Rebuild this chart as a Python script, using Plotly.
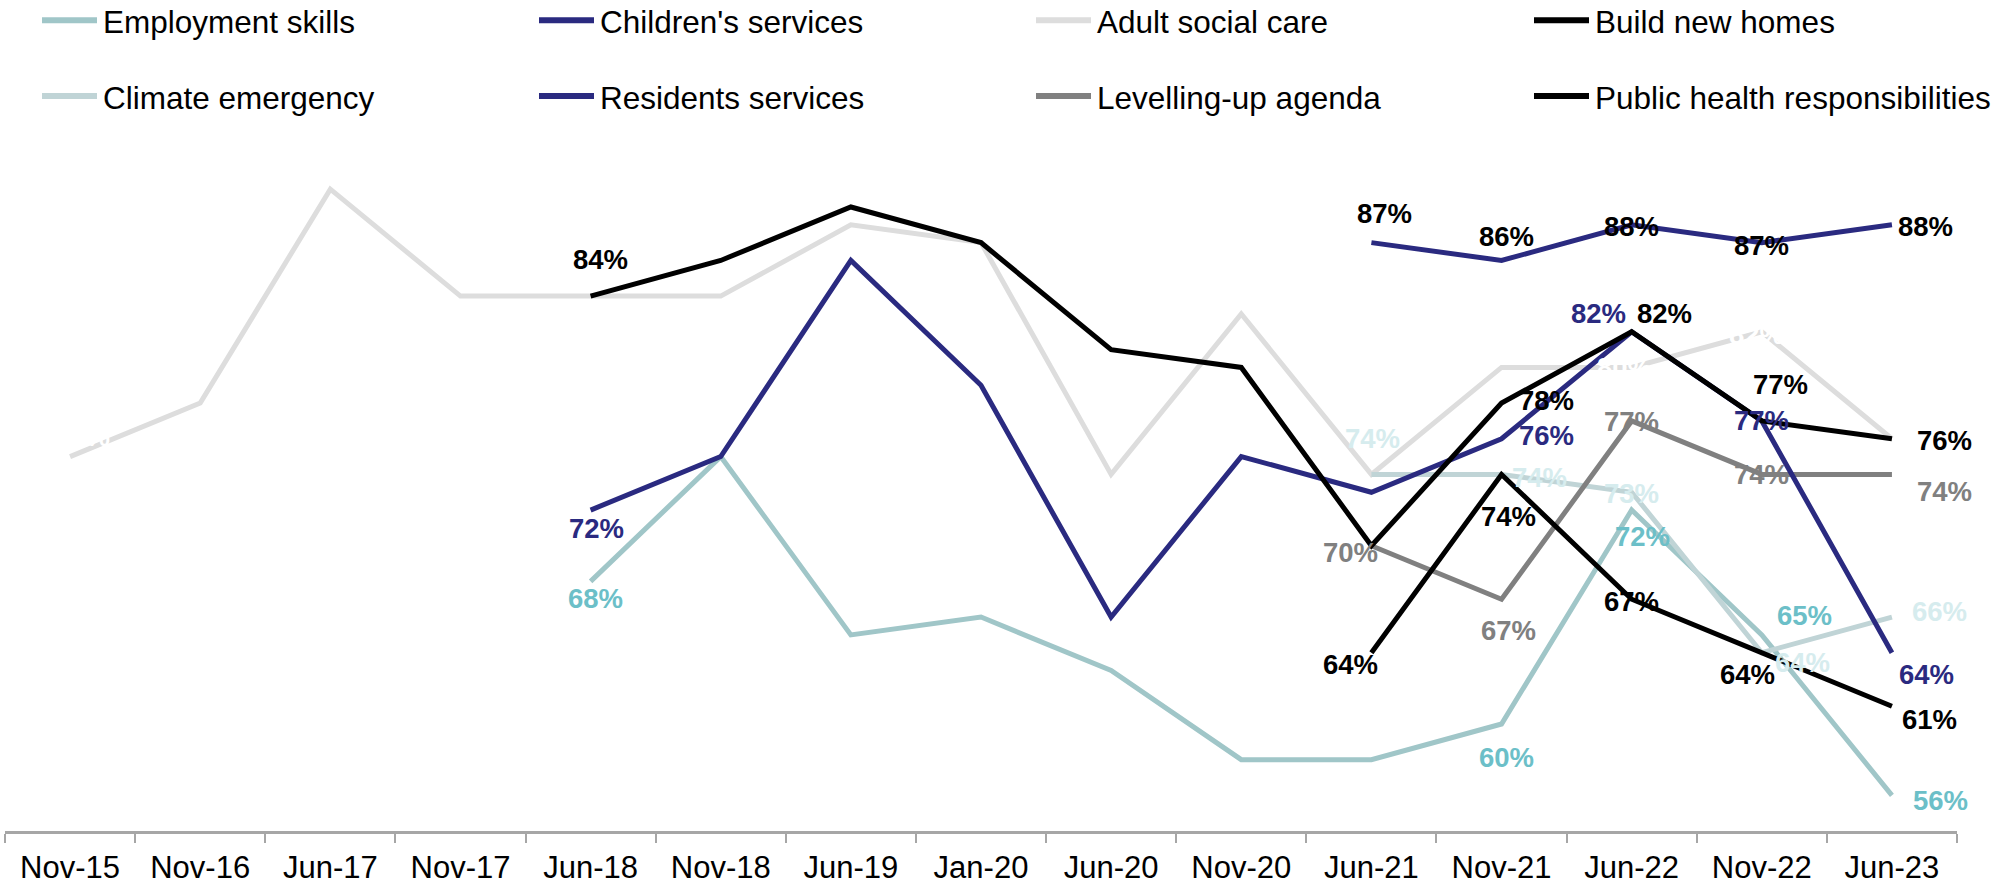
import plotly.graph_objects as go

# ---- data -------------------------------------------------------------
categories = ["Nov-15", "Nov-16", "Jun-17", "Nov-17", "Jun-18", "Nov-18", "Jun-19",
              "Jan-20", "Jun-20", "Nov-20", "Jun-21", "Nov-21", "Jun-22", "Nov-22", "Jun-23"]

series_names = ["Employment skills", "Children's services", "Adult social care", "Build new homes",
                "Climate emergency", "Residents services", "Levelling-up agenda",
                "Public health responsibilities"]

N = None
employment_skills = [N, N, N, N, 68, 75, 65, 66, 63, 58, 58, 60, 72, 65, 56]
childrens_services = [N, N, N, N, 72, 75, 86, 79, 66, 75, 73, 76, 82, 77, 64]
adult_social_care = [75, 78, 90, 84, 84, 84, 88, 87, 74, 83, 74, 80, 80, 82, 76]
build_new_homes = [N, N, N, N, 84, 86, 89, 87, 81, 80, 70, 78, 82, 77, 76]
climate_emergency = [N, N, N, N, N, N, N, N, N, N, 74, 74, 73, 64, 66]
residents_services = [N, N, N, N, N, N, N, N, N, N, 87, 86, 88, 87, 88]
levelling_up = [N, N, N, N, N, N, N, N, N, N, 70, 67, 77, 74, 74]
public_health = [N, N, N, N, N, N, N, N, N, N, 64, 74, 67, 64, 61]

values = {
    "Employment skills": employment_skills,
    "Children's services": childrens_services,
    "Adult social care": adult_social_care,
    "Build new homes": build_new_homes,
    "Climate emergency": climate_emergency,
    "Residents services": residents_services,
    "Levelling-up agenda": levelling_up,
    "Public health responsibilities": public_health,
}

# ---- styling ----------------------------------------------------------
line_colors = {
    "Employment skills": "#A0C6C8",
    "Children's services": "#2A2A80",
    "Adult social care": "#DDDDDD",
    "Build new homes": "#000000",
    "Climate emergency": "#C0D4D6",
    "Residents services": "#2A2A80",
    "Levelling-up agenda": "#808080",
    "Public health responsibilities": "#000000",
}
label_colors = {
    "Employment skills": "#6CBFC8",
    "Children's services": "#2A2A80",
    "Adult social care": "#FFFFFF",
    "Build new homes": "#000000",
    "Climate emergency": "#D6ECEE",
    "Residents services": "#000000",
    "Levelling-up agenda": "#808080",
    "Public health responsibilities": "#000000",
}
# data-label placement: category index -> (dx, dy) pixel offset from the point
label_offsets = {
    "Adult social care": {0: (12, -20), 12: (-7, 0), 13: (-5, 3)},
    "Employment skills": {4: (5, 17), 11: (5, 33), 12: (11, 26), 13: (43, -19), 14: (49, 5)},
    "Climate emergency": {10: (1, -36), 11: (38, 3), 12: (0, 1), 13: (41, 10), 14: (48, -6)},
    "Levelling-up agenda": {10: (-21, 7), 11: (7, 31), 12: (0, 1), 13: (0, 0), 14: (53, 17)},
    "Children's services": {4: (6, 18), 11: (45, -3), 12: (-33, -18), 13: (0, 0), 14: (35, 22)},
    "Residents services": {10: (13, -29), 11: (5, -24), 12: (0, 2), 13: (0, 3), 14: (34, 2)},
    "Build new homes": {4: (10, -37), 11: (45, -3), 12: (33, -18), 13: (19, -36), 14: (53, 2)},
    "Public health responsibilities": {10: (-21, 12), 11: (7, 42), 12: (0, 2), 13: (-14, 22), 14: (38, 13)},
}

draw_order = ["Adult social care", "Employment skills", "Climate emergency", "Levelling-up agenda",
              "Children's services", "Residents services", "Build new homes",
              "Public health responsibilities"]

FONT = "Liberation Sans, Arial, sans-serif"
W, H = 1993, 890
PLOT_L, PLOT_R, PLOT_T, PLOT_B = 5, 1957, 100, 833

fig = go.Figure()
annotations = []

for name in draw_order:
    ys = values[name]
    fig.add_trace(go.Scatter(
        x=categories, y=ys, mode="lines", name=name, showlegend=False,
        line=dict(color=line_colors[name], width=5), connectgaps=False,
        hoverinfo="skip",
    ))
    for idx, (dx, dy) in label_offsets[name].items():
        v = ys[idx]
        annotations.append(dict(
            x=categories[idx], y=v, xref="x", yref="y", text=f"<b>{v}%</b>",
            showarrow=False, xshift=dx, yshift=-dy,
            font=dict(family=FONT, size=27.5, color=label_colors[name]),
            xanchor="center", yanchor="middle",
        ))

# ---- legend, laid out in two rows of four ---------------------------------
def px_to_paper_x(px):
    return (px - PLOT_L) / (PLOT_R - PLOT_L)

def px_to_paper_y(py):
    return (PLOT_B - py) / (PLOT_B - PLOT_T)

col_x = [42, 539, 1036, 1534]
row_y = [20, 96]
shapes = []
for k, name in enumerate(series_names):
    r, c = divmod(k, 4)
    x0 = col_x[c]
    y0 = row_y[r]
    shapes.append(dict(
        type="line", xref="paper", yref="paper",
        x0=px_to_paper_x(x0), x1=px_to_paper_x(x0 + 55),
        y0=px_to_paper_y(y0), y1=px_to_paper_y(y0),
        line=dict(color=line_colors[name], width=6),
    ))
    annotations.append(dict(
        x=px_to_paper_x(x0 + 59), y=px_to_paper_y(y0 + 2), xref="paper", yref="paper",
        text=name, showarrow=False, xanchor="left", yanchor="middle",
        font=dict(family=FONT, size=31.5, color="#000000"),
    ))

fig.update_layout(
    width=W, height=H, autosize=False,
    margin=dict(l=PLOT_L, r=W - PLOT_R, t=PLOT_T, b=H - PLOT_B, pad=0),
    paper_bgcolor="white", plot_bgcolor="white",
    showlegend=False,
    annotations=annotations,
    shapes=shapes,
    xaxis=dict(
        type="category", categoryorder="array", categoryarray=categories,
        range=[-0.5, len(categories) - 0.5],
        showgrid=False, zeroline=False,
        showline=True, linecolor="#A6A6A6", linewidth=3,
        ticks="outside", tickson="boundaries", ticklen=9, tickwidth=2, tickcolor="#A6A6A6",
        tickfont=dict(family=FONT, size=31, color="#000000"),
        ticklabelstandoff=7,
    ),
    yaxis=dict(range=[54, 95], visible=False, showgrid=False, zeroline=False),
)

fig.write_html("out.html")
